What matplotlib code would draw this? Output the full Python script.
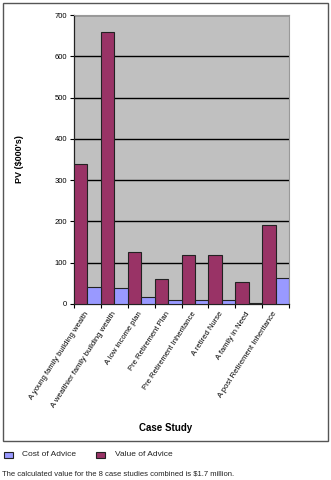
import matplotlib.pyplot as plt
import numpy as np
from matplotlib.patches import Rectangle

# case studies, PV in $000's
cases = ['A young family building wealth', 'A wealthier family building wealth',
         'A low income plan', 'Pre Retirement Plan', 'Pre Retirement Inheritance',
         'A retired Nurse', 'A family in Need', 'A post Retirement Inheritance']
value_of_advice = [340, 658, 125, 60, 119, 118, 53, 191]
cost_of_advice = [40, 38, 16, 9, 9, 9, 3, 62]

plt.rcParams['font.family'] = 'Liberation Sans'

fig = plt.figure(figsize=(3.31, 4.8), dpi=100)
W, H = 331, 480
ax = fig.add_axes([74 / W, 1 - 304 / H, (289 - 74) / W, (304 - 15) / H])

x = np.arange(len(cases))
w = 0.5
ax.bar(x - w / 2, value_of_advice, w, color='#993366', edgecolor='#222222', linewidth=0.8,
       label='Value of Advice', zorder=3)
ax.bar(x + w / 2, cost_of_advice, w, color='#9999ff', edgecolor='#222222', linewidth=0.8,
       label='Cost of Advice', zorder=3)

ax.set_facecolor('#c0c0c0')
ax.set_xlim(-0.5, len(cases) - 0.5)
ax.set_ylim(0, 700)
ax.set_yticks(range(0, 701, 100))
ax.yaxis.grid(True, color='black', linewidth=1, zorder=1)
ax.tick_params(axis='y', labelsize=5.5, length=3, width=0.8, pad=2)

# ticks between groups, labels under each group
ax.set_xticks(np.arange(-0.5, len(cases)), minor=False)
ax.set_xticklabels([])
ax.set_xticks(x, minor=True)
ax.set_xticklabels(cases, minor=True, rotation=57, rotation_mode='anchor',
                   ha='right', va='center', fontsize=5.5)
ax.tick_params(axis='x', which='major', length=3, width=0.8)
ax.tick_params(axis='x', which='minor', length=0, pad=6)

for s in ['top', 'right']:
    ax.spines[s].set_color('#999999')
for s in ['left', 'bottom']:
    ax.spines[s].set_color('#222222')
    ax.spines[s].set_linewidth(0.9)

ax.set_ylabel('PV ($000\'s)', fontsize=6.5, fontweight='bold', labelpad=22)
fig.text(166 / W, 1 - 428 / H, 'Case Study', fontsize=7, fontweight='bold',
         ha='center', va='center')

# outer chart border
fig.patches.append(Rectangle((3 / W, 1 - 441 / H), 325 / W, 438 / H, transform=fig.transFigure,
                             fill=False, edgecolor='#555555', linewidth=1))

# legend below the border
fig.patches.append(Rectangle((4 / W, 1 - 458 / H), 9 / W, 6 / H, transform=fig.transFigure,
                             facecolor='#9999ff', edgecolor='#222222', linewidth=0.8))
fig.text(22 / W, 1 - 455 / H, 'Cost of Advice', fontsize=6, va='center', color='#222222')
fig.patches.append(Rectangle((96 / W, 1 - 458 / H), 9 / W, 6 / H, transform=fig.transFigure,
                             facecolor='#993366', edgecolor='#222222', linewidth=0.8))
fig.text(115 / W, 1 - 455 / H, 'Value of Advice', fontsize=6, va='center', color='#222222')

fig.text(2 / W, 1 - 474 / H, 'The calculated value for the 8 case studies combined is $1.7 million.',
         fontsize=5.5, va='center', color='#222222')

fig.savefig('out.png', dpi=100)
